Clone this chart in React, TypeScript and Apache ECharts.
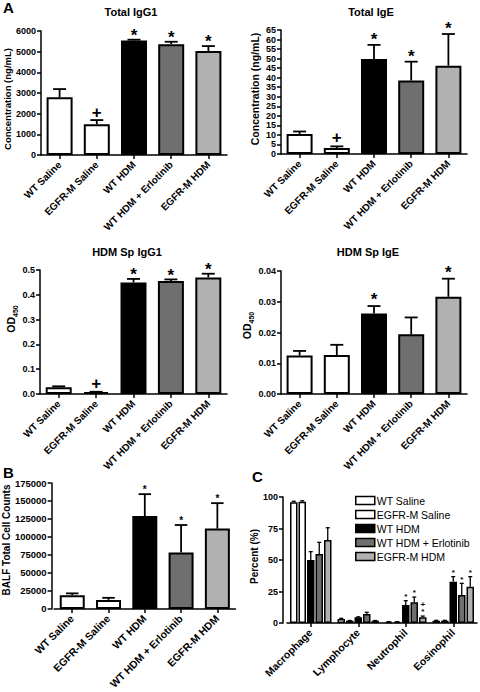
import React, { useEffect, useRef } from "react";
import * as echarts from "echarts";

const FONT = '"Liberation Sans", Arial, Helvetica, sans-serif';

// ---------- data ----------
const groups = ["WT Saline", "EGFR-M Saline", "WT HDM", "WT HDM + Erlotinib", "EGFR-M HDM"];
const groupColors = ["#ffffff", "#ffffff", "#000000", "#6f6f6f", "#b1b1b1"];

const totalIgG1 = [2790, 1485, 5540, 5360, 5030];
const totalIgG1Err = [400, 205, 40, 120, 240];
const totalIgG1Marks = ["", "+", "*", "*", "*"];

const totalIgE = [10.5, 3.1, 49.8, 38.5, 46.3];
const totalIgEErr = [1.3, 0.9, 7.4, 9.9, 16.6];
const totalIgEMarks = ["", "+", "*", "*", "*"];

const hdmIgG1 = [0.027, 0.008, 0.45, 0.456, 0.47];
const hdmIgG1Err = [0.004, 0.001, 0.014, 0.006, 0.015];
const hdmIgG1Marks = ["", "+", "*", "*", "*"];

const hdmIgE = [0.0125, 0.0127, 0.0262, 0.0194, 0.0316];
const hdmIgEErr = [0.0015, 0.0033, 0.0024, 0.0055, 0.0059];
const hdmIgEMarks = ["", "", "*", "", "*"];

const balfCounts = [19100, 12500, 129100, 78300, 111600];
const balfErr = [2500, 2900, 30400, 38300, 35400];
const balfMarks = ["", "", "*", "*", "*"];

const cellTypes = ["Macrophage", "Lymphocyte", "Neutrophil", "Eosinophil"];
const pctWTSaline = [95.8, 3.2, 0.9, 1.8];
const pctWTSalineErr = [0.8, 0.5, 0.2, 0.3];
const pctEGFRSaline = [96.3, 1.8, 0.9, 1.8];
const pctEGFRSalineErr = [0.7, 0.2, 0.2, 0.3];
const pctWTHDM = [50.0, 4.5, 14.3, 32.8];
const pctWTHDMErr = [6.6, 0.4, 3.4, 4.0];
const pctWTHDMErl = [54.8, 7.1, 16.4, 22.2];
const pctWTHDMErlErr = [9.2, 1.4, 4.2, 9.3];
const pctEGFRHDM = [65.9, 1.8, 4.5, 28.8];
const pctEGFRHDMErr = [9.7, 0.2, 1.0, 8.0];
const pctMarks = [
  ["", "", "", ""],
  ["", "", "", ""],
  ["", "", "*", "*"],
  ["", "", "*", "*"],
  ["", "", "+*", "*"],
];

// ---------- helpers ----------
type PanelSpec = {
  left: number; top: number; width: number; height: number;
  yOffset: number;
  min: number; max: number; interval: number; decimals: number;
  values: number[]; errs: number[]; marks: string[];
  yName: string; yNameSize: number; yNameGap: number; yNameShift: number;
  tickSize: number; catSize: number; barWidth: number;
  markSize: number; markGap: number;
};

function errorRenderer(marks: string[], offset: number, cap: number, lw: number, markSize: number, markGap: number, step: number) {
  return (params: any, api: any) => {
    const i = api.value(0);
    const v = api.value(1);
    const e = api.value(2);
    const base = api.coord([i, v]);
    const top = api.coord([i, v + e]);
    const cx = base[0] + offset;
    const children: any[] = [
      { type: "line", shape: { x1: cx, y1: base[1], x2: cx, y2: top[1] }, style: { stroke: "#000", lineWidth: lw } },
      { type: "line", shape: { x1: cx - cap / 2, y1: top[1], x2: cx + cap / 2, y2: top[1] }, style: { stroke: "#000", lineWidth: lw } },
    ];
    const m = marks[params.dataIndex] || "";
    const chars = m.split("");
    for (let k = 0; k < chars.length; k++) {
      const ch = chars[chars.length - 1 - k];
      const gap = markGap + k * step;
      const y = ch === "*" ? top[1] - gap + 0.22 * markSize : top[1] - gap;
      children.push({
        type: "text",
        x: cx,
        y,
        style: {
          text: ch,
          fill: "#000",
          fontSize: markSize,
          fontWeight: "bold",
          fontFamily: FONT,
          align: "center",
          verticalAlign: "middle",
        },
      });
    }
    return { type: "group", children };
  };
}

export default function App() {
  const ref = useRef<HTMLDivElement>(null);

  useEffect(() => {
    document.body.style.margin = "0";
    if (!ref.current) return;
    const chart = echarts.init(ref.current, undefined, { renderer: "svg" });

    const panels: PanelSpec[] = [
      {
        left: 41, top: 31, width: 186, height: 124, yOffset: 0,
        min: 0, max: 6000, interval: 1000, decimals: 0,
        values: totalIgG1, errs: totalIgG1Err, marks: totalIgG1Marks,
        yName: "Concentration (ng/mL)", yNameSize: 9.5, yNameGap: 28, yNameShift: -6,
        tickSize: 9, catSize: 10, barWidth: 26, markSize: 17, markGap: 8,
      },
      {
        left: 281, top: 30, width: 186, height: 124, yOffset: 0,
        min: 0, max: 65, interval: 5, decimals: 0,
        values: totalIgE, errs: totalIgEErr, marks: totalIgEMarks,
        yName: "Concentration (ng/mL)", yNameSize: 10.5, yNameGap: 21, yNameShift: 3,
        tickSize: 9, catSize: 10, barWidth: 26, markSize: 17, markGap: 9,
      },
      {
        left: 40, top: 270, width: 187, height: 124, yOffset: 0,
        min: 0, max: 0.5, interval: 0.1, decimals: 1,
        values: hdmIgG1, errs: hdmIgG1Err, marks: hdmIgG1Marks,
        yName: "OD{s|450}", yNameSize: 10.5, yNameGap: 23, yNameShift: 13,
        tickSize: 9, catSize: 10, barWidth: 26, markSize: 17, markGap: 8,
      },
      {
        left: 281, top: 271, width: 186, height: 123, yOffset: 0,
        min: 0, max: 0.04, interval: 0.01, decimals: 2,
        values: hdmIgE, errs: hdmIgEErr, marks: hdmIgEMarks,
        yName: "OD{s|450}", yNameSize: 10.5, yNameGap: 24, yNameShift: 7,
        tickSize: 9, catSize: 10, barWidth: 26, markSize: 17, markGap: 10,
      },
      {
        left: 52.5, top: 483, width: 183, height: 140, yOffset: 2.5,
        min: 0, max: 175000, interval: 25000, decimals: 0,
        values: balfCounts, errs: balfErr, marks: balfMarks,
        yName: "BALF Total Cell Counts", yNameSize: 10, yNameGap: 40, yNameShift: 6,
        tickSize: 9.5, catSize: 10.5, barWidth: 25, markSize: 10, markGap: 7,
      },
    ];

    const grids: any[] = [];
    const xAxes: any[] = [];
    const yAxes: any[] = [];
    const series: any[] = [];

    const axisLine = { show: true, lineStyle: { color: "#000", width: 1.5 } };
    const axisTick = { show: true, length: 4, lineStyle: { color: "#000", width: 1.5 } };

    panels.forEach((p, gi) => {
      grids.push({ left: p.left, top: p.top, width: p.width, height: p.height, containLabel: false });
      xAxes.push({
        type: "category",
        gridIndex: gi,
        data: groups,
        axisLine,
        axisTick: { ...axisTick, alignWithLabel: true },
        axisLabel: {
          interval: 0, rotate: 45, margin: 8, color: "#000",
          fontSize: p.catSize, fontWeight: "bold", fontFamily: FONT,
        },
        splitLine: { show: false },
      });
      yAxes.push({
        type: "value",
        gridIndex: gi,
        min: p.min, max: p.max, interval: p.interval,
        offset: p.yOffset,
        axisLine,
        axisTick,
        splitLine: { show: false },
        axisLabel: {
          margin: 5, color: "#000", fontSize: p.tickSize, fontWeight: "bold", fontFamily: FONT,
          formatter: (v: number) => v.toFixed(p.decimals),
        },
        name: p.yName,
        nameLocation: "middle",
        nameGap: p.yNameGap,
        nameTextStyle: {
          color: "#000", fontSize: p.yNameSize, fontWeight: "bold", fontFamily: FONT,
          padding: p.yNameShift >= 0 ? [0, 0, 0, 2 * p.yNameShift] : [0, -2 * p.yNameShift, 0, 0],
          rich: {
            s: { fontSize: 7, fontWeight: "bold", fontFamily: FONT, color: "#000", verticalAlign: "bottom", lineHeight: 9, padding: [0, 0, -2, 0] },
          },
        },
      });
      series.push({
        type: "bar",
        name: "panel" + gi,
        xAxisIndex: gi,
        yAxisIndex: gi,
        barWidth: p.barWidth,
        data: p.values.map((v, i) => ({
          value: v,
          itemStyle: { color: groupColors[i], borderColor: "#000", borderWidth: 2 },
        })),
        z: 2,
      });
      series.push({
        type: "custom",
        name: "err" + gi,
        xAxisIndex: gi,
        yAxisIndex: gi,
        z: 3,
        data: p.values.map((v, i) => [i, v, p.errs[i]]),
        renderItem: errorRenderer(p.marks, 0, p.barWidth * 0.5, 1.8, p.markSize, p.markGap, 6),
      });
    });

    // Panel C (grouped)
    const cIdx = panels.length;
    grids.push({ left: 287, top: 497, width: 190, height: 126, containLabel: false });
    xAxes.push({
      type: "category",
      gridIndex: cIdx,
      data: cellTypes,
      axisLine,
      axisTick: { ...axisTick, alignWithLabel: true },
      axisLabel: {
        interval: 0, rotate: 45, margin: 8, color: "#000",
        fontSize: 10.5, fontWeight: "bold", fontFamily: FONT,
      },
    });
    yAxes.push({
      type: "value",
      gridIndex: cIdx,
      min: 0, max: 100, interval: 25,
      offset: 4,
      axisLine,
      axisTick,
      splitLine: { show: false },
      axisLabel: { margin: 5, color: "#000", fontSize: 9, fontWeight: "bold", fontFamily: FONT },
      name: "Percent (%)",
      nameLocation: "middle",
      nameGap: 23,
      nameTextStyle: { color: "#000", fontSize: 10, fontWeight: "bold", fontFamily: FONT, padding: [0, 0, 0, 7] },
    });

    const cVals = [pctWTSaline, pctEGFRSaline, pctWTHDM, pctWTHDMErl, pctEGFRHDM];
    const cErrs = [pctWTSalineErr, pctEGFRSalineErr, pctWTHDMErr, pctWTHDMErlErr, pctEGFRHDMErr];
    const bw = 7.5;
    const gapPx = 1;
    const stepC = bw + gapPx;
    const totalW = cVals.length * bw + (cVals.length - 1) * gapPx;
    cVals.forEach((vals, si) => {
      series.push({
        type: "bar",
        name: groups[si],
        xAxisIndex: cIdx,
        yAxisIndex: cIdx,
        barWidth: bw,
        barGap: (gapPx / bw) * 100 + "%",
        itemStyle: { color: groupColors[si], borderColor: "#000", borderWidth: 1.5 },
        data: vals,
        z: 2,
      });
    });
    cVals.forEach((vals, si) => {
      const off = -totalW / 2 + bw / 2 + si * stepC;
      series.push({
        type: "custom",
        name: "cerr" + si,
        xAxisIndex: cIdx,
        yAxisIndex: cIdx,
        z: 3,
        data: vals.map((v, i) => [i, v, cErrs[si][i]]),
        renderItem: errorRenderer(pctMarks[si], off, 4, 1.3, 8, 6, 6),
      });
    });

    const textStyle = (size: number) => ({ fill: "#000", fontSize: size, fontWeight: "bold", fontFamily: FONT });

    const option: any = {
      animation: false,
      backgroundColor: "#ffffff",
      grid: grids,
      xAxis: xAxes,
      yAxis: yAxes,
      series,
      legend: {
        data: groups,
        orient: "vertical",
        left: 350,
        top: 490,
        itemWidth: 19,
        itemHeight: 8,
        itemGap: 3,
        icon: "rect",
        itemStyle: { borderColor: "#000", borderWidth: 1.5 },
        textStyle: { color: "#000", fontSize: 10.5, fontFamily: FONT, padding: [0, 0, 0, -3] },
        selectedMode: false,
      },
      graphic: [
        { type: "text", left: 3, top: 0, style: { text: "A", ...textStyle(15) } },
        { type: "text", left: 3, top: 465, style: { text: "B", ...textStyle(15) } },
        { type: "text", left: 252, top: 469, style: { text: "C", ...textStyle(15) } },
        { type: "text", x: 131, y: 12, style: { text: "Total IgG1", ...textStyle(11), align: "center", verticalAlign: "middle" } },
        { type: "text", x: 371, y: 12, style: { text: "Total IgE", ...textStyle(11), align: "center", verticalAlign: "middle" } },
        { type: "text", x: 127, y: 252, style: { text: "HDM Sp IgG1", ...textStyle(11), align: "center", verticalAlign: "middle" } },
        { type: "text", x: 368, y: 252, style: { text: "HDM Sp IgE", ...textStyle(11), align: "center", verticalAlign: "middle" } },
      ],
    };

    chart.setOption(option);
    return () => chart.dispose();
  }, []);

  return (
    <div
      ref={ref}
      style={{ width: 480, height: 692, position: "absolute", left: 0, top: 0, background: "#fff" }}
    />
  );
}
